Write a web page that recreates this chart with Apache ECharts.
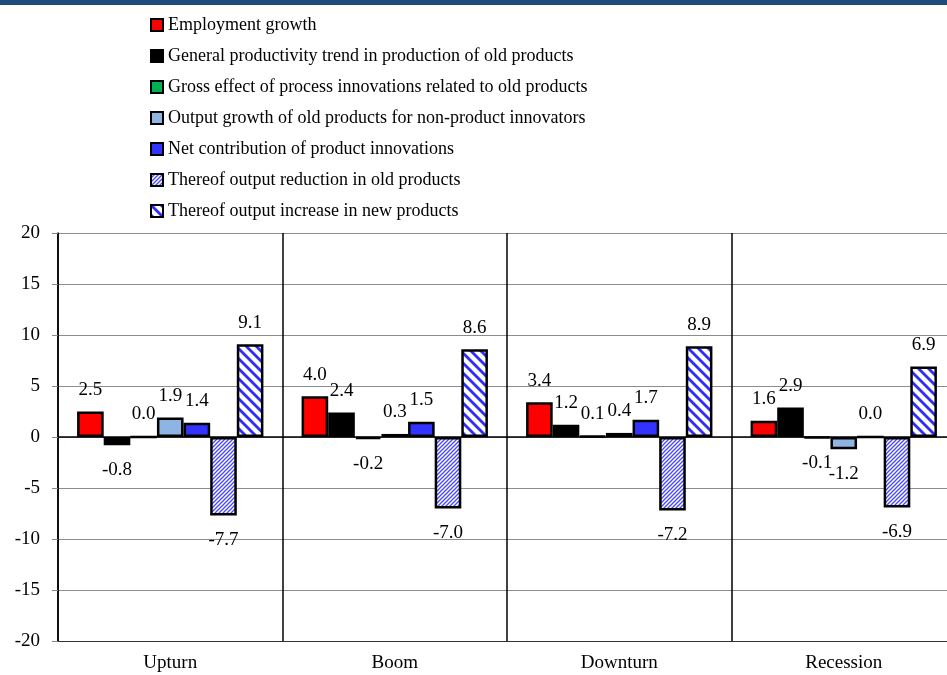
<!DOCTYPE html>
<html>
<head>
<meta charset="utf-8">
<script src="https://cdn.jsdelivr.net/npm/echarts@6/dist/echarts.min.js"></script>
<style>
html,body{margin:0;padding:0;background:#fff;}
#chart{width:947px;height:675px;}
</style>
</head>
<body>
<div id="chart"></div>
<script>
const categories = ['Upturn', 'Boom', 'Downturn', 'Recession'];
const seriesNames = [
  'Employment growth',
  'General productivity trend in production of old products',
  'Gross effect of process innovations related to old products',
  'Output growth of old products for non-product innovators',
  'Net contribution of product innovations',
  'Thereof output reduction in old products',
  'Thereof output increase in new products'
];
const employmentGrowth     = [2.5, 4.0, 3.4, 1.6];
const productivityTrend    = [-0.8, 2.4, 1.2, 2.9];
const processInnovation    = [0.0, -0.2, 0.1, -0.1];
const nonProductInnovators = [1.9, 0.3, 0.4, -1.2];
const netProductInnovation = [1.4, 1.5, 1.7, 0.0];
const outputReductionOld   = [-7.7, -7.0, -7.2, -6.9];
const outputIncreaseNew    = [9.1, 8.6, 8.9, 6.9];
const yTicks = { min: -20, max: 20, interval: 5 };

function hatch(period, width, dir, color) {
  const c = document.createElement('canvas');
  c.width = period; c.height = period;
  const g = c.getContext('2d');
  g.fillStyle = '#fff';
  g.fillRect(0, 0, period, period);
  g.strokeStyle = color;
  g.lineWidth = width;
  for (let k = -1; k <= 2; k++) {
    g.beginPath();
    if (dir === 'down') {
      g.moveTo(k * period - period, -period);
      g.lineTo(k * period + 2 * period, 2 * period);
    } else {
      g.moveTo(k * period + period, -period);
      g.lineTo(k * period - 2 * period, 2 * period);
    }
    g.stroke();
  }
  return { image: c, repeat: 'repeat' };
}

const fills = [
  '#FF0000',
  '#000000',
  '#00B050',
  '#8DB4E2',
  '#3333FF',
  hatch(4, 1.3, 'up', '#4A4AF0'),
  hatch(10, 2.8, 'down', '#2E2EF5')
];
const allValues = [employmentGrowth, productivityTrend, processInnovation,
  nonProductInnovators, netProductInnovation, outputReductionOld, outputIncreaseNew];

const FONT = 'Liberation Serif';

const series = allValues.map((vals, i) => ({
  name: seriesNames[i],
  type: 'bar',
  barGap: '0%',
  barCategoryGap: '17%',
  itemStyle: { color: fills[i], borderColor: '#000', borderWidth: 2.5 },
  data: vals.map(v => ({
    value: v,
    label: { position: v < 0 ? 'bottom' : 'top', distance: v < 0 ? 15 : 12 }
  })),
  label: {
    show: true,
    color: '#000',
    fontFamily: FONT,
    fontSize: 19,
    formatter: p => p.value.toFixed(1)
  },
  markLine: i === 0 ? {
    silent: true,
    symbol: 'none',
    label: { show: false },
    lineStyle: { color: '#000', type: 'solid', width: 1.5 },
    data: [{ yAxis: 0 }]
  } : undefined,
  z: 3
}));

const chart = echarts.init(document.getElementById('chart'), null, { renderer: 'canvas' });
chart.setOption({
  animation: false,
  backgroundColor: '#fff',
  graphic: [{
    type: 'rect',
    shape: { x: 0, y: 0, width: 947, height: 5 },
    style: { fill: '#1F4A7C' }
  }],
  legend: {
    orient: 'vertical',
    left: 145,
    top: 10,
    itemWidth: 12,
    itemHeight: 12,
    itemGap: 11,
    icon: 'rect',
    itemStyle: { borderColor: '#000', borderWidth: 2 },
    textStyle: { fontFamily: FONT, fontSize: 18, color: '#000', lineHeight: 20 },
    data: seriesNames
  },
  grid: { left: 58, width: 898, top: 233, height: 408, containLabel: false, outerBoundsMode: 'none' },
  xAxis: {
    type: 'category',
    data: categories,
    boundaryGap: true,
    axisLine: { show: true, onZero: false, lineStyle: { color: '#333', width: 1.2 } },
    axisTick: { show: false },
    axisLabel: { fontFamily: FONT, fontSize: 19, color: '#000', margin: 13 },
    splitLine: { show: true, lineStyle: { color: '#000', width: 1.5 } }
  },
  yAxis: {
    type: 'value',
    min: yTicks.min,
    max: yTicks.max,
    interval: yTicks.interval,
    axisLine: { show: true, lineStyle: { color: '#000', width: 1.5 } },
    axisTick: { show: true, length: 6, lineStyle: { color: '#888' } },
    axisLabel: { fontFamily: FONT, fontSize: 19, color: '#000', margin: 18 },
    splitLine: { show: true, lineStyle: { color: '#8c8c8c', width: 1.2 } }
  },
  series: series
});
</script>
</body>
</html>
